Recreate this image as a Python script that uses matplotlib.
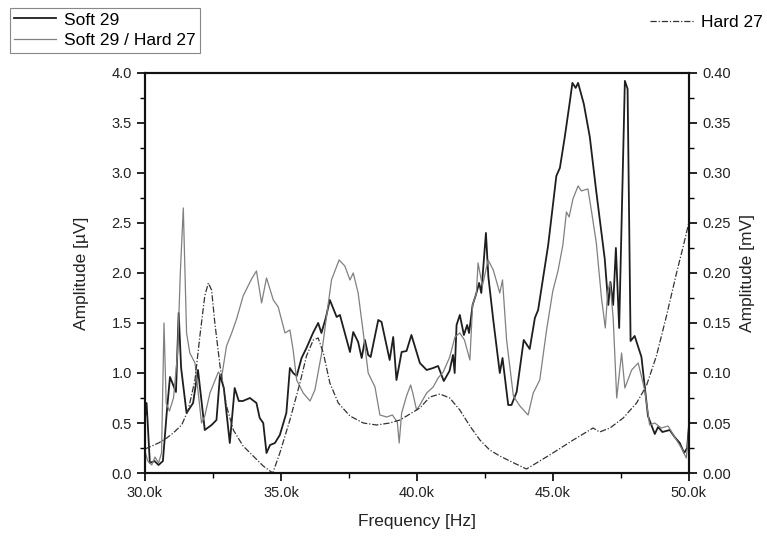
import matplotlib
matplotlib.use("Agg")
import matplotlib.pyplot as plt
from matplotlib.ticker import MultipleLocator, FuncFormatter

plt.rcParams['font.family'] = ['Liberation Sans', 'DejaVu Sans']

# Soft 29, left axis (uV)
soft_f = [30.00, 30.06, 30.18, 30.35, 30.50, 30.66, 30.80, 30.92, 31.14, 31.24,
          31.33, 31.53, 31.77, 31.95, 32.20, 32.45, 32.63, 32.76, 32.90, 33.12,
          33.30, 33.45, 33.60, 33.86, 34.10, 34.22, 34.35, 34.47, 34.60, 34.78,
          34.96, 35.20, 35.33, 35.45, 35.58, 35.76, 35.94, 36.18, 36.37, 36.49,
          36.65, 36.80, 37.05, 37.17, 37.54, 37.66, 37.84, 37.97, 38.09, 38.21,
          38.30, 38.58, 38.70, 39.00, 39.13, 39.25, 39.44, 39.62, 39.80, 40.11,
          40.36, 40.60, 40.78, 40.99, 41.20, 41.33, 41.39, 41.46, 41.58, 41.73,
          41.85, 41.92, 42.05, 42.17, 42.29, 42.37, 42.54, 42.63, 42.81, 43.05,
          43.15, 43.36, 43.48, 43.67, 43.93, 44.15, 44.34, 44.46, 44.83, 45.13,
          45.26, 45.44, 45.63, 45.72, 45.84, 45.93, 46.14, 46.36, 46.60, 46.91,
          47.04, 47.12, 47.22, 47.32, 47.44, 47.65, 47.75, 47.86, 48.01, 48.26,
          48.50, 48.75, 48.87, 49.03, 49.30, 49.48, 49.67, 49.83, 49.94, 50.00]
soft_v = [0.55, 0.70, 0.10, 0.12, 0.08, 0.12, 0.60, 0.96, 0.81, 1.60,
          1.05, 0.60, 0.70, 1.03, 0.43, 0.48, 0.53, 0.98, 0.85, 0.30,
          0.85, 0.72, 0.72, 0.75, 0.70, 0.55, 0.50, 0.20, 0.28, 0.30,
          0.38, 0.60, 1.05, 1.00, 0.97, 1.15, 1.25, 1.40, 1.50, 1.40,
          1.55, 1.73, 1.56, 1.58, 1.21, 1.41, 1.31, 1.15, 1.33, 1.18,
          1.16, 1.53, 1.51, 1.13, 1.36, 0.93, 1.21, 1.22, 1.38, 1.10,
          1.03, 1.05, 1.07, 0.92, 1.02, 1.18, 1.00, 1.48, 1.58, 1.38,
          1.48, 1.40, 1.68, 1.78, 1.90, 1.80, 2.40, 1.96, 1.53, 1.00,
          1.15, 0.68, 0.68, 0.81, 1.33, 1.24, 1.55, 1.63, 2.28, 2.97,
          3.05, 3.36, 3.72, 3.90, 3.85, 3.90, 3.69, 3.36, 2.81, 2.14,
          1.68, 1.91, 1.68, 2.25, 1.45, 3.92, 3.84, 1.32, 1.37, 1.16,
          0.57, 0.39, 0.46, 0.41, 0.43, 0.36, 0.30, 0.20, 0.25, 0.45]

# Soft 29 / Hard 27, left axis (uV)
mix_f = [30.00, 30.10, 30.25, 30.37, 30.50, 30.61, 30.70, 30.78, 30.90, 31.05,
         31.20, 31.30, 31.41, 31.53, 31.65, 31.84, 31.96, 32.08, 32.20, 32.39,
         32.70, 32.82, 33.00, 33.19, 33.37, 33.61, 33.92, 34.10, 34.29, 34.47,
         34.72, 34.90, 35.15, 35.33, 35.45, 35.58, 35.82, 36.07, 36.25, 36.50,
         36.68, 36.86, 37.14, 37.35, 37.54, 37.66, 37.84, 38.03, 38.21, 38.46,
         38.64, 38.89, 39.10, 39.28, 39.35, 39.44, 39.62, 39.77, 39.85, 39.99,
         40.11, 40.36, 40.60, 40.78, 40.97, 41.21, 41.40, 41.58, 41.75, 41.95,
         42.05, 42.19, 42.25, 42.41, 42.62, 42.81, 43.05, 43.15, 43.30, 43.55,
         43.79, 44.09, 44.28, 44.52, 44.77, 45.00, 45.19, 45.37, 45.50, 45.60,
         45.74, 45.93, 46.05, 46.29, 46.41, 46.60, 46.79, 46.93, 47.02, 47.10,
         47.22, 47.35, 47.53, 47.65, 47.90, 48.14, 48.38, 48.56, 48.75, 48.99,
         49.24, 49.48, 49.73, 49.91, 50.00]
mix_v = [0.22, 0.12, 0.08, 0.16, 0.10, 0.20, 1.50, 0.70, 0.62, 0.75,
         1.20, 2.00, 2.65, 1.40, 1.20, 1.10, 0.80, 0.50, 0.57, 0.80,
         1.01, 0.96, 1.27, 1.40, 1.54, 1.77, 1.94, 2.02, 1.70, 1.95,
         1.73, 1.66, 1.40, 1.43, 1.23, 0.93, 0.80, 0.72, 0.83, 1.20,
         1.57, 1.93, 2.13, 2.07, 1.93, 2.00, 1.80, 1.40, 1.00, 0.86,
         0.58, 0.56, 0.58, 0.51, 0.30, 0.60, 0.77, 0.88, 0.80, 0.63,
         0.68, 0.80, 0.86, 0.95, 1.01, 1.16, 1.36, 1.40, 1.33, 1.13,
         1.68, 1.80, 2.10, 1.87, 2.13, 2.03, 1.80, 1.93, 1.33, 0.77,
         0.67, 0.58, 0.80, 0.93, 1.43, 1.82, 2.02, 2.28, 2.61, 2.56,
         2.74, 2.87, 2.82, 2.84, 2.64, 2.30, 1.75, 1.45, 1.81, 1.91,
         1.55, 0.75, 1.20, 0.85, 1.03, 1.10, 0.83, 0.48, 0.50, 0.45,
         0.47, 0.36, 0.25, 0.15, 0.40]

# Hard 27, right axis (mV)
hard_f = [30.00, 30.50, 30.80, 31.04, 31.35, 31.59, 31.84, 32.02, 32.20, 32.33,
          32.45, 32.57, 32.76, 33.00, 33.25, 33.61, 33.98, 34.35, 34.70, 34.96,
          35.33, 35.70, 35.94, 36.19, 36.37, 36.56, 36.80, 37.11, 37.54, 38.03,
          38.52, 39.00, 39.38, 40.11, 40.48, 40.85, 41.21, 41.58, 41.95, 42.32,
          42.68, 43.05, 43.42, 44.03, 44.52, 45.00, 45.75, 46.48, 46.72, 47.10,
          47.59, 48.08, 48.44, 48.81, 49.18, 49.55, 49.80, 50.00]
hard_v = [0.024, 0.030, 0.035, 0.040, 0.048, 0.063, 0.093, 0.137, 0.177, 0.190,
          0.183, 0.150, 0.107, 0.067, 0.043, 0.027, 0.017, 0.007, 0.000, 0.020,
          0.053, 0.090, 0.117, 0.133, 0.135, 0.120, 0.090, 0.070, 0.057, 0.050,
          0.048, 0.050, 0.053, 0.065, 0.076, 0.079, 0.075, 0.063, 0.047, 0.033,
          0.023, 0.017, 0.012, 0.004, 0.012, 0.020, 0.033, 0.045, 0.041, 0.045,
          0.055, 0.070, 0.087, 0.117, 0.157, 0.200, 0.227, 0.250]

fig = plt.figure(figsize=(7.67, 5.36), dpi=100)
ax = fig.add_axes([0.189, 0.1175, 0.709, 0.7465])
ax2 = ax.twinx()

l1, = ax.plot(soft_f, soft_v, color='#1e1e1e', lw=1.3, label='Soft 29')
l2, = ax.plot(mix_f, mix_v, color='#808080', lw=0.9, label='Soft 29 / Hard 27')
l3, = ax2.plot(hard_f, hard_v, color='#333333', lw=0.9,
               dashes=(5, 1.5, 1, 1.5), label='Hard 27')

ax.set_xlim(30, 50)
ax.set_ylim(0, 4.0)
ax2.set_ylim(0, 0.40)

ax.xaxis.set_major_locator(MultipleLocator(5))
ax.xaxis.set_minor_locator(MultipleLocator(2.5))
ax.xaxis.set_major_formatter(FuncFormatter(lambda x, p: f'{x:.1f}k'))
ax.yaxis.set_major_locator(MultipleLocator(0.5))
ax.yaxis.set_minor_locator(MultipleLocator(0.25))
ax.yaxis.set_major_formatter(FuncFormatter(lambda y, p: f'{y:.1f}'))
ax2.yaxis.set_major_locator(MultipleLocator(0.05))
ax2.yaxis.set_minor_locator(MultipleLocator(0.025))
ax2.yaxis.set_major_formatter(FuncFormatter(lambda y, p: f'{y:.2f}'))

for a in (ax, ax2):
    a.tick_params(which='major', direction='out', length=6, width=1.2,
                  labelsize=10.5, labelcolor='#222222')
    a.tick_params(which='minor', direction='out', length=3.5, width=1.0)
    for s in a.spines.values():
        s.set_linewidth(1.5)
        s.set_color('#111111')

ax.set_xlabel('Frequency [Hz]', fontsize=12.5, color='#222222', labelpad=10)
ax.set_ylabel('Amplitude [\u00b5V]', fontsize=12.5, color='#222222', labelpad=16)
ax2.set_ylabel('Amplitude [mV]', fontsize=12.5, color='#222222', labelpad=7)

leg1 = fig.legend(handles=[l1, l2], loc='upper left',
                  bbox_to_anchor=(0.013, 0.985), fontsize=12.5,
                  handlelength=2.4, handletextpad=0.45, labelspacing=0.32,
                  borderpad=0.25, borderaxespad=0, fancybox=False,
                  edgecolor='#888888', framealpha=1)
leg1.get_frame().set_linewidth(0.8)
fig.legend(handles=[l3], loc='upper right', bbox_to_anchor=(1.003, 0.985),
           fontsize=12.5, handlelength=2.6, handletextpad=0.3,
           frameon=False, borderaxespad=0)

fig.savefig('out.png', dpi=100)
